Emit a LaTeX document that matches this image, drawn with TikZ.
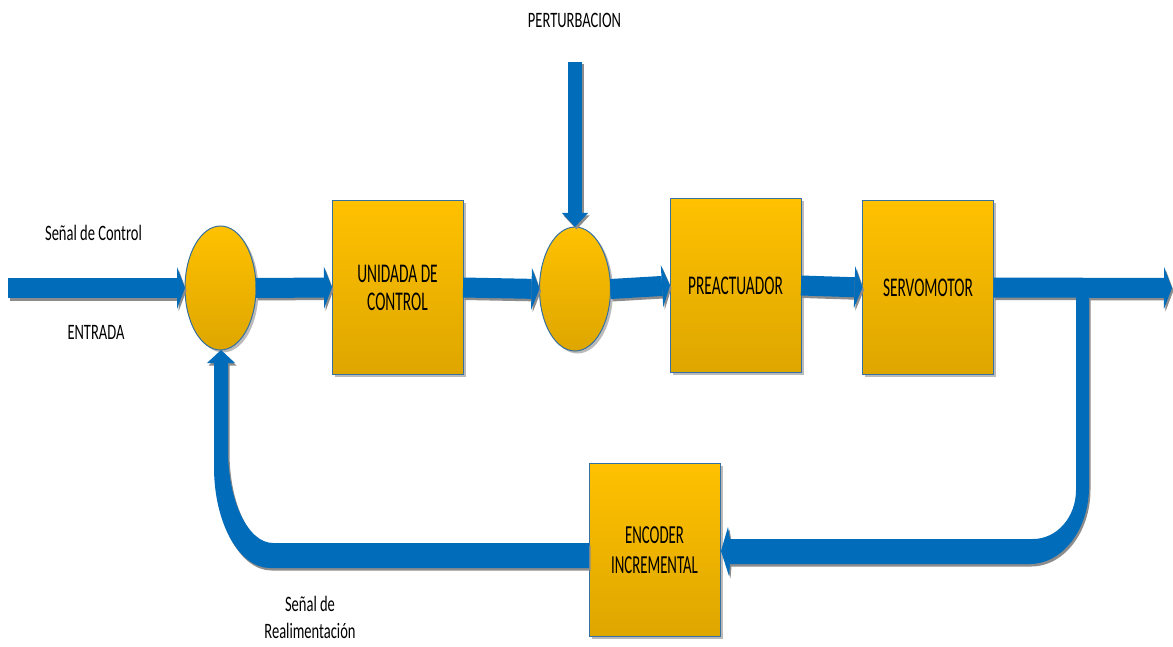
\documentclass[tikz,border=0pt]{standalone}
\usepackage{fontspec}
\setmainfont{Carlito}
\newfontfamily\boxfont[FakeStretch=0.57]{Carlito}
\newfontfamily\labfont[FakeStretch=0.66]{Carlito}
\usetikzlibrary{arrows.meta,shapes.geometric,shadows,calc}
\definecolor{flowblue}{RGB}{0,108,186}
\definecolor{boxtop}{RGB}{255,193,0}
\definecolor{boxbot}{RGB}{222,166,0}
\definecolor{boxline}{RGB}{52,112,160}
\definecolor{shadowgray}{RGB}{140,140,140}
\begin{document}
\begin{tikzpicture}[x=1pt,y=-1pt,
  block/.style={rectangle, draw=boxline, line width=1pt, top color=boxtop, bottom color=boxbot,
    minimum width=131pt, minimum height=173pt, inner sep=0pt, outer sep=0pt, align=center,
    font=\boxfont\fontsize{27}{28}\selectfont,
    drop shadow={shadow xshift=2.5pt, shadow yshift=-2.5pt, fill=shadowgray, opacity=0.6}},
  sumpt/.style={ellipse, draw=boxline, line width=1pt, top color=boxtop, bottom color=boxbot,
    minimum width=71pt, minimum height=124pt, inner sep=0pt, outer sep=0pt,
    drop shadow={shadow xshift=2.5pt, shadow yshift=-2.5pt, fill=shadowgray, opacity=0.6}},
  flow/.style={draw=flowblue, line width=20pt, -{Triangle[length=8pt,width=42pt,line width=0pt]}},
  flowsh/.style={draw=shadowgray, line width=20pt, -{Triangle[length=8pt,width=42pt,line width=0pt]}},
  pertflow/.style={draw=flowblue, line width=14pt, -{Triangle[length=14pt,width=26pt,line width=0pt]}},
  pertsh/.style={draw=shadowgray, line width=14pt, -{Triangle[length=14pt,width=26pt,line width=0pt]}},
  lab/.style={font=\labfont\fontsize{22}{27}\selectfont, inner sep=0pt, align=center},
  fb/.style={fill=flowblue},
  fbsh/.style={fill=shadowgray}
]
\useasboundingbox (0,0) rectangle (1173,647);

% nodes
\node[sumpt] (e1) at (220.5,288) {};
\node[block] (b1) at (397.5,287.5) {UNIDADA DE\\CONTROL};
\node[sumpt] (e2) at (575,289) {};
\node[block] (b2) at (735.5,285.5) {PREACTUADOR};
\node[block] (b3) at (928,287.5) {SERVOMOTOR};
\node[block, font=\boxfont\fontsize{26}{30}\selectfont] (b4) at (654.5,550) {ENCODER\\INCREMENTAL};

\coordinate (in) at (8,288);
\coordinate (out) at (1172,288);
\coordinate (pert) at (575,62);

% shadows of connectors
\begin{scope}[transform canvas={shift={(1.5pt,-2.5pt)}}]
  \draw[flowsh] (in) -- (e1.west);
  \draw[flowsh] (e1.east) -- (b1.west);
  \draw[flowsh] (b1.east) -- (e2.west);
  \draw[flowsh] (e2.east) -- (b2.west);
  \draw[flowsh] (b2.east) -- (b3.west);
  \draw[flowsh] (b3.east) -- (out);
  \draw[pertsh] (pert) -- (e2.north);
  \fill[fbsh] (1076,297) -- (1076,490) .. controls (1076,517) and (1057,539) .. (1033,539)
     -- (730,539) -- (728,527) -- (721,551) -- (729,576) -- (730,564) -- (1030,564)
     .. controls (1062,564) and (1089,530) .. (1089,487) -- (1089,297) -- cycle;
  \fill[fbsh] (589,543) -- (273,543) .. controls (248,543) and (228,501) .. (228,450)
     -- (228,363) -- (235,363) -- (221,350) -- (207,363) -- (214,363) -- (214,467)
     .. controls (214,523) and (239,568) .. (270,568) -- (589,568) -- cycle;
\end{scope}

% connectors
\draw[flow] (in) -- (e1.west);
\draw[flow] (e1.east) -- (b1.west);
\draw[flow] (b1.east) -- (e2.west);
\draw[flow] (e2.east) -- (b2.west);
\draw[flow] (b2.east) -- (b3.west);
\draw[flow] (b3.east) -- (out);
\draw[pertflow] (pert) -- (e2.north);

% feedback from output to encoder
\fill[fb] (1076,297) -- (1076,490) .. controls (1076,517) and (1057,539) .. (1033,539)
   -- (730,539) -- (728,527) -- (721,551) -- (729,576) -- (730,564) -- (1030,564)
   .. controls (1062,564) and (1089,530) .. (1089,487) -- (1089,297) -- cycle;
% feedback from encoder to summing point
\fill[fb] (589,543) -- (273,543) .. controls (248,543) and (228,501) .. (228,450)
   -- (228,363) -- (235,363) -- (221,350) -- (207,363) -- (214,363) -- (214,467)
   .. controls (214,523) and (239,568) .. (270,568) -- (589,568) -- cycle;

% labels
\node[lab, anchor=base] (l1) at (93.5,241) {Señal de Control};
\node[lab, anchor=base] (l2) at (96,339) {ENTRADA};
\node[lab, anchor=base] (l3) at (574.5,28) {PERTURBACION};
\node[lab] (l4) at (310,617) {Señal de\\Realimentación};
\end{tikzpicture}
\end{document}
